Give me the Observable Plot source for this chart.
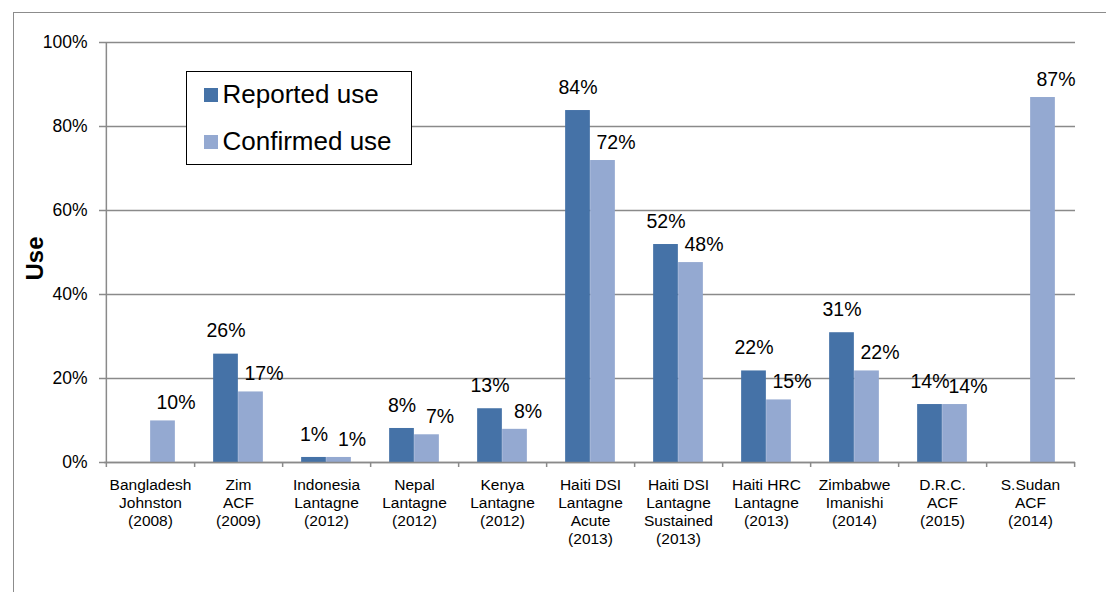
<!DOCTYPE html>
<html><head><meta charset="utf-8">
<script src="https://cdn.jsdelivr.net/npm/d3@7"></script>
<script src="https://cdn.jsdelivr.net/npm/@observablehq/plot@0.6"></script>
<style>
html,body{margin:0;padding:0;background:#fff;}
#wrap{position:relative;width:1106px;height:592px;overflow:hidden;font-family:"Liberation Sans",Arial,sans-serif;}
#border{position:absolute;left:12.5px;top:11.5px;width:1200px;height:700px;border-left:1.5px solid #8c8c8c;border-top:1.5px solid #8c8c8c;}
#chart{position:absolute;left:0;top:0;}
#legend{position:absolute;left:186px;top:71px;width:224px;height:92px;border:1.5px solid #000;background:#fff;}
.row{position:absolute;left:16.5px;height:30px;display:flex;align-items:center;font-size:26px;color:#000;white-space:nowrap;}
.sw{width:14px;height:14px;margin-right:5px;}
</style></head>
<body>
<div id="wrap"><div id="border"></div><div id="chart"></div><div id="legend"></div></div>
<script>
const categories = ["Bangladesh Johnston 2008","Zim ACF 2009","Indonesia Lantagne 2012","Nepal Lantagne 2012","Kenya Lantagne 2012","Haiti DSI Lantagne Acute 2013","Haiti DSI Lantagne Sustained 2013","Haiti HRC Lantagne 2013","Zimbabwe Imanishi 2014","D.R.C. ACF 2015","S.Sudan ACF 2014"];
const tickLabels = ["Bangladesh\nJohnston\n(2008)","Zim\nACF\n(2009)","Indonesia\nLantagne\n(2012)","Nepal\nLantagne\n(2012)","Kenya\nLantagne\n(2012)","Haiti DSI\nLantagne\nAcute\n(2013)","Haiti DSI\nLantagne\nSustained\n(2013)","Haiti HRC\nLantagne\n(2013)","Zimbabwe\nImanishi\n(2014)","D.R.C.\nACF\n(2015)","S.Sudan\nACF\n(2014)"];
const seriesNames = ["Reported use","Confirmed use"];
const reported = [null,25.8,1.2,8.1,12.8,83.8,51.9,21.8,30.9,13.8,null];
const confirmed = [9.9,16.8,1.2,6.6,7.9,71.9,47.6,14.9,21.8,13.8,86.9];
const yTicks = [0,20,40,60,80,100];
const colors = ["#4572a7","#94a9d1"];

const W = 1106, H = 592, mL = 104, mR = 31, mT = 42, mB = 130;
const step = (W - mL - mR) / categories.length;
const barW = 25;
const outer = (step - 2 * barW) / 2;
const plotH = H - mT - mB;

const rows = [];
categories.forEach((c, i) => {
  if (reported[i] != null) rows.push({cat: c, series: seriesNames[0], value: reported[i]});
  if (confirmed[i] != null) rows.push({cat: c, series: seriesNames[1], value: confirmed[i]});
});
const rep = rows.filter(d => d.series === seriesNames[0]);
const con = rows.filter(d => d.series === seriesNames[1]);
const labelMap = new Map(categories.map((c, i) => [c, tickLabels[i]]));
const gray = "#8a8a8a";

const chart = Plot.plot({
  width: W, height: H,
  marginLeft: mL, marginRight: mR, marginTop: mT, marginBottom: mB,
  style: {fontFamily: '"Liberation Sans", Arial, sans-serif', fontSize: "16px", background: "transparent", color: "black"},
  x: {domain: categories, padding: 0, label: null},
  y: {domain: [0, 100], label: null},
  marks: [
    Plot.gridY(yTicks, {stroke: gray, strokeOpacity: 1, strokeWidth: 1.5}),
    Plot.barY(rep, {x: "cat", y: "value", fill: colors[0], insetLeft: outer, insetRight: outer + barW}),
    Plot.barY(con, {x: "cat", y: "value", fill: colors[1], insetLeft: outer + barW, insetRight: outer}),
    Plot.ruleY([0], {stroke: gray, strokeWidth: 1.5}),
    Plot.ruleX([categories[0]], {x: d => d, dx: -step / 2, stroke: gray, strokeWidth: 1.5, insetBottom: -5}),
    Plot.ruleX(categories, {x: d => d, dx: step / 2, stroke: gray, strokeWidth: 1.5, insetTop: plotH, insetBottom: -5}),
    Plot.axisY(yTicks, {tickFormat: d => d + "%", tickSize: 5, tickPadding: 12, fontSize: 17.5, stroke: gray, strokeWidth: 1.5, fill: "black", label: null}),
    Plot.axisX({tickSize: 0, tickPadding: 15, tickFormat: d => labelMap.get(d), fontSize: 15.5, lineHeight: 1.15, fill: "black", label: null}),
    Plot.text(rep, {x: "cat", y: "value", text: d => Math.round(d.value) + "%", dx: -barW / 2, dy: -23, fontSize: 19.5, fill: "black"}),
    Plot.text(con, {x: "cat", y: "value", text: d => Math.round(d.value) + "%", dx: barW / 2 + 13, dy: -18, fontSize: 19.5, fill: "black"}),
    Plot.text(["Use"], {frameAnchor: "left", dx: -69, dy: 28, rotate: -90, fontSize: 24, fontWeight: "bold", fill: "black"})
  ]
});
document.getElementById("chart").appendChild(chart);

const legend = document.getElementById("legend");
seriesNames.forEach((name, i) => {
  const row = document.createElement("div");
  row.className = "row";
  row.style.top = (i === 0 ? 7.5 : 54.5) + "px";
  const sw = document.createElement("span");
  sw.className = "sw";
  sw.style.background = colors[i];
  const t = document.createElement("span");
  t.textContent = name;
  row.appendChild(sw); row.appendChild(t);
  legend.appendChild(row);
});
</script>
</body></html>
